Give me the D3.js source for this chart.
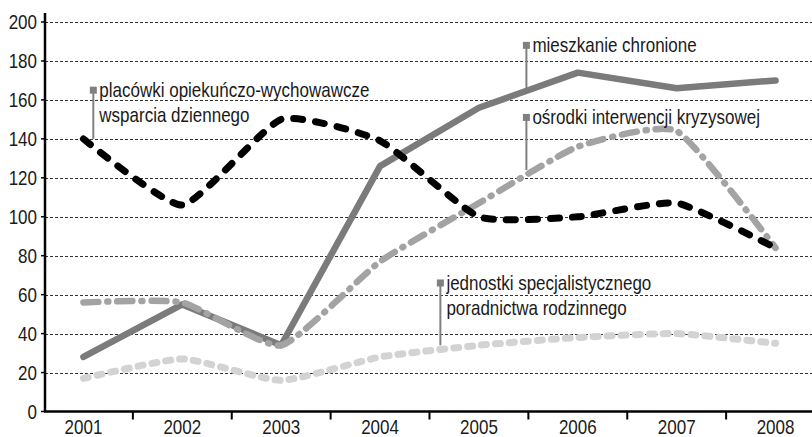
<!DOCTYPE html>
<html>
<head>
<meta charset="utf-8">
<script src="https://cdn.jsdelivr.net/npm/d3@7"></script>
<style>
  body { margin: 0; background: #fff; }
  svg text { font-family: "Liberation Sans", Arial, sans-serif; fill: #1a1a1a; }
</style>
</head>
<body>
<svg id="chart" width="812" height="437"></svg>
<script>
// dane
const years = ['2001', '2002', '2003', '2004', '2005', '2006', '2007', '2008'];
const yTicks = [0, 20, 40, 60, 80, 100, 120, 140, 160, 180, 200];

const placowki = [140, 106, 150, 139, 100, 100, 107, 84];
const mieszkanie = [28, 55, 34, 126, 156, 174, 166, 170];
const osrodki = [56, 56, 34, 77, 107, 136, 144, 84];
const jednostki = [17, 27, 16, 28, 34, 38, 40, 35];

// opisy serii: tekst, pozycja znacznika (indeks roku, wartość), koniec linii
const callouts = [
  { lines: ['placówki opiekuńczo-wychowawcze', 'wsparcia dziennego'], xi: 0.1, top: 165, bottom: 140 },
  { lines: ['mieszkanie chronione'], xi: 4.48, top: 188, bottom: 166 },
  { lines: ['ośrodki interwencji kryzysowej'], xi: 4.48, top: 151, bottom: 124 },
  { lines: ['jednostki specjalistycznego', 'poradnictwa rodzinnego'], xi: 3.61, top: 66, bottom: 34 }
];

const svg = d3.select('#chart');
const mLeft = 45, mRight = 812, mTop = 22, mBottom = 411.5;
const squeeze = 0.85; // czcionka w oryginale jest zwężona

const xBand = d3.scaleBand().domain(years).range([34, 825]);
const x = d3.scalePoint().domain(years).range([34, 825]).padding(0.5);
const xi = d3.scaleLinear().domain([0, years.length - 1]).range([x(years[0]), x(years[years.length - 1])]);
const y = d3.scaleLinear().domain([0, 200]).range([mBottom, mTop]);

function narrowText(sel, tx, ty) {
  return sel.attr('transform', 'translate(' + tx + ',' + ty + ') scale(' + squeeze + ',1)');
}

// siatka
svg.append('g')
  .selectAll('line')
  .data(yTicks.filter(d => d > 0))
  .enter()
  .append('line')
  .attr('x1', mLeft).attr('x2', mRight)
  .attr('y1', d => Math.round(y(d)) + 0.5).attr('y2', d => Math.round(y(d)) + 0.5)
  .attr('stroke', '#333')
  .attr('stroke-width', 1)
  .attr('stroke-dasharray', '3,2');

// oś Y
const yAxis = svg.append('g');
yAxis.selectAll('line')
  .data(yTicks)
  .enter()
  .append('line')
  .attr('x1', mLeft - 4).attr('x2', mLeft)
  .attr('y1', d => y(d)).attr('y2', d => y(d))
  .attr('stroke', '#000').attr('stroke-width', 1.5);
yAxis.selectAll('text')
  .data(yTicks)
  .enter()
  .append('text')
  .each(function (d) { narrowText(d3.select(this), mLeft - 8, y(d) + 7); })
  .attr('text-anchor', 'end')
  .style('font-size', '20px')
  .text(d => d);

svg.append('line')
  .attr('x1', mLeft).attr('x2', mLeft)
  .attr('y1', 13).attr('y2', mBottom)
  .attr('stroke', '#000').attr('stroke-width', 2.5);

// oś X
svg.append('line')
  .attr('x1', mLeft - 1).attr('x2', mRight)
  .attr('y1', mBottom).attr('y2', mBottom)
  .attr('stroke', '#000').attr('stroke-width', 2.5);

svg.append('g')
  .selectAll('line')
  .data(years.slice(1))
  .enter()
  .append('line')
  .attr('x1', d => xBand(d)).attr('x2', d => xBand(d))
  .attr('y1', mBottom).attr('y2', mBottom + 8)
  .attr('stroke', '#000').attr('stroke-width', 2);

svg.append('g')
  .selectAll('text')
  .data(years)
  .enter()
  .append('text')
  .each(function (d) { narrowText(d3.select(this), x(d), 434); })
  .attr('text-anchor', 'middle')
  .style('font-size', '20px')
  .text(d => d);

// serie
const smooth = d3.curveCardinal.tension(0.5);
const series = [
  { values: mieszkanie, color: '#7b7b7b', width: 6.5, dash: null, curve: d3.curveLinear },
  { values: osrodki, color: '#a3a3a3', width: 6.5, dash: '15,9,1,9', curve: smooth },
  { values: jednostki, color: '#d3d3d3', width: 7, dash: '5,9', curve: smooth },
  { values: placowki, color: '#000', width: 7, dash: '9,13', curve: smooth }
];

series.forEach(s => {
  const line = d3.line()
    .x((d, i) => x(years[i]))
    .y(d => y(d))
    .curve(s.curve);
  svg.append('path')
    .datum(s.values)
    .attr('d', line)
    .attr('fill', 'none')
    .attr('stroke', s.color)
    .attr('stroke-width', s.width)
    .attr('stroke-linecap', 'round')
    .attr('stroke-linejoin', 'round')
    .attr('stroke-dasharray', s.dash);
});

// opisy
callouts.forEach(c => {
  const cx = xi(c.xi);
  const g = svg.append('g');
  g.append('line')
    .attr('x1', cx).attr('x2', cx)
    .attr('y1', y(c.top)).attr('y2', y(c.bottom))
    .attr('stroke', '#808080').attr('stroke-width', 2);
  g.append('rect')
    .attr('x', cx - 3.5).attr('y', y(c.top) - 3.5)
    .attr('width', 7).attr('height', 7)
    .attr('fill', '#808080');
  c.lines.forEach((t, i) => {
    g.append('text')
      .call(narrowText, cx + 6, y(c.top) + 7 + i * 25)
      .style('font-size', '20px')
      .text(t);
  });
});
</script>
</body>
</html>
